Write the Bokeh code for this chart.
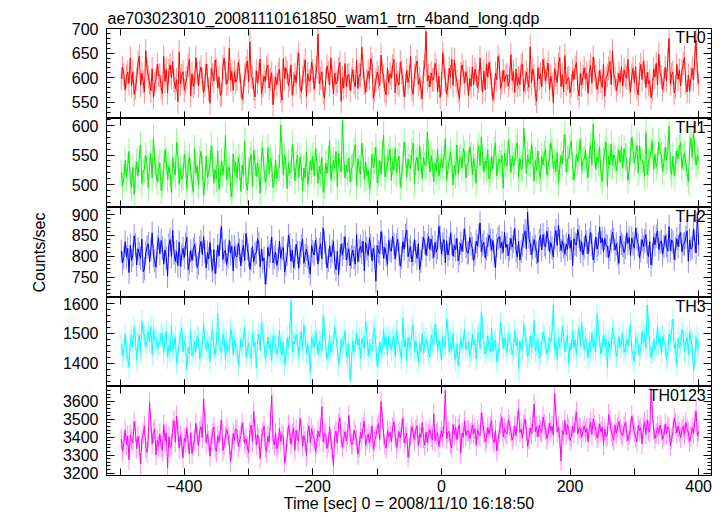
import numpy as np
from bokeh.plotting import figure
from bokeh.layouts import column
from bokeh.models import Range1d, LinearAxis, SingleIntervalTicker, Label, ColumnDataSource
from bokeh.embed import file_html
from bokeh.resources import INLINE

TITLE = "ae703023010_20081110161850_wam1_trn_4band_long.qdp"
X_LABEL = "Time [sec] 0 = 2008/11/10 16:18:50"
Y_LABEL = "Counts/sec"
NAMES = ["TH0", "TH1", "TH2", "TH3", "TH0123"]
COLORS = ["#ff0000", "#00f000", "#0000ff", "#00ffff", "#ff00ff"]
T_START = -498
T_STEP = 2
ERRORS = [24, 23, 28, 38, 58]
Y_RANGES = [(517, 700), (461, 612), (701, 917), (1322, 1619), (3187, 3682)]
Y_MAJOR = [50, 50, 50, 100, 100]
X_RANGE = (-521, 420)

th0 = [598, 621, 607, 575, 603, 611, 588, 640, 583, 612, 566, 579, 597, 630, 644, 584, 609, 592, 571, 655, 618, 602, 589, 573, 618, 560, 587, 596, 627, 605,
       605, 580, 568, 643, 592, 617, 569, 614, 626, 600, 633, 594, 578, 596, 551, 652, 587, 604, 612, 574, 589, 599, 625, 638, 563, 608, 582, 590, 641, 610,
       583, 611, 622, 596, 570, 585, 628, 604, 577, 548, 619, 606, 593, 636, 615, 579, 601, 564, 566, 622, 640, 609, 587, 598, 660, 595, 613, 574, 612, 591,
       597, 631, 613, 584, 556, 572, 605, 620, 634, 591, 673, 602, 600, 577, 561, 614, 589, 608, 638, 568, 583, 603, 592, 619, 626, 579, 596, 610, 545, 580,
       601, 586, 609, 617, 572, 554, 639, 598, 620, 611, 583, 597, 626, 564, 588, 606, 590, 629, 650, 581, 571, 599, 615, 636, 562, 608, 593, 594, 632, 614,
       576, 603, 621, 689, 588, 599, 612, 571, 558, 596, 624, 610, 585, 640, 602, 567, 609, 587, 593, 618, 631, 552, 600, 579, 629, 582, 604, 607, 574, 597,
       616, 591, 581, 635, 578, 606, 604, 662, 623, 589, 570, 594, 613, 598, 639, 627, 558, 575, 595, 611, 600, 584, 646, 612, 603, 573, 565, 620, 590, 608,
       599, 624, 637, 569, 607, 590, 585, 632, 611, 596, 561, 584, 615, 590, 603, 643, 577, 566, 605, 621, 634, 586, 598, 579, 557, 612, 626, 694, 593, 604,
       581, 610, 595, 597, 629, 615, 571, 603, 560, 588, 651, 622, 594, 566, 583, 619, 601, 638, 584, 636, 605, 592, 573, 557, 608, 626, 611, 589, 612, 599,
       563, 598, 582, 622, 585, 617, 606, 579, 593, 640, 597, 571, 613, 575, 628, 601, 631, 609, 587, 555, 574, 609, 596, 643, 624, 578, 590, 615, 592, 603,
       606, 583, 599, 647, 594, 613, 570, 617, 584, 600, 586, 625, 628, 572, 590, 611, 596, 580, 663, 589, 618, 604, 567, 552, 620, 598, 608, 581, 637, 616,
       594, 612, 630, 575, 603, 588, 549, 618, 605, 590, 627, 641, 582, 606, 571, 645, 587, 598, 600, 569, 584, 614, 596, 621, 631, 578, 563, 608, 585, 602,
       620, 597, 609, 568, 611, 625, 589, 642, 616, 602, 576, 590, 615, 593, 580, 628, 562, 599, 605, 619, 633, 586, 654, 607, 598, 574, 587, 609, 591, 622,
       583, 616, 604, 599, 637, 592, 571, 604, 619, 590, 622, 578, 565, 608, 627, 596, 633, 612, 580, 611, 587, 594, 559, 575, 618, 601, 629, 585, 648, 610,
       602, 575, 593, 621, 594, 636, 680, 588, 606, 611, 569, 582, 627, 597, 615, 583, 614, 629, 641, 590, 571, 605, 572, 598, 619, 596, 640, 676, 608, 589]

th1 = [520, 498, 511, 541, 512, 530, 556, 507, 495, 529, 483, 517, 538, 515, 544, 567, 502, 521, 526, 549, 536, 494, 533, 552, 511, 578, 540, 518, 505, 527,
       537, 490, 503, 524, 559, 541, 509, 531, 518, 486, 545, 527, 516, 572, 548, 500, 528, 509, 513, 551, 534, 492, 535, 547, 522, 506, 488, 561, 519, 532,
       499, 543, 556, 527, 481, 506, 548, 512, 523, 534, 566, 542, 503, 525, 510, 557, 491, 515, 539, 517, 535, 583, 508, 522, 530, 496, 479, 552, 521, 538,
       511, 546, 529, 488, 533, 516, 574, 505, 490, 523, 540, 551, 497, 558, 537, 514, 536, 520, 485, 549, 562, 526, 504, 513, 563, 518, 545, 532, 495, 509,
       542, 510, 527, 529, 601, 558, 516, 550, 535, 493, 537, 519, 521, 568, 546, 506, 534, 550, 512, 547, 530, 489, 528, 511, 555, 500, 517, 539, 524, 548,
       515, 561, 539, 502, 531, 518, 546, 487, 499, 536, 519, 543, 575, 508, 526, 541, 527, 556, 496, 553, 534, 522, 609, 547, 511, 533, 520, 545, 504, 528,
       530, 556, 568, 498, 544, 527, 517, 570, 548, 509, 538, 514, 524, 492, 506, 551, 529, 541, 563, 503, 519, 540, 518, 553, 584, 513, 526, 535, 547, 560,
       507, 539, 524, 562, 520, 537, 548, 496, 514, 534, 572, 551, 512, 543, 529, 527, 555, 570, 501, 538, 546, 523, 566, 540, 510, 546, 533, 531, 589, 552,
       521, 549, 536, 505, 537, 522, 560, 514, 530, 544, 529, 547, 578, 508, 525, 541, 555, 538, 499, 533, 516, 567, 519, 542, 546, 528, 561, 552, 511, 534,
       538, 564, 550, 517, 545, 529, 502, 551, 566, 532, 581, 545, 522, 540, 527, 559, 509, 521, 547, 526, 558, 570, 515, 531, 543, 536, 549, 494, 553, 537,
       531, 575, 554, 520, 548, 532, 539, 563, 571, 512, 544, 526, 528, 596, 560, 518, 550, 537, 535, 567, 549, 506, 541, 524, 557, 523, 510, 548, 533, 552,
       560, 516, 533, 546, 571, 558, 527, 540, 522, 554, 503, 529, 549, 535, 561, 585, 521, 543, 545, 562, 574, 530, 508, 527, 551, 538, 556, 576, 524, 541,
       543, 558, 531, 512, 550, 566, 534, 602, 555, 526, 547, 538, 564, 519, 505, 541, 555, 572, 497, 548, 533, 569, 532, 550, 544, 523, 540, 559, 537, 563,
       528, 561, 547, 545, 507, 524, 553, 580, 559, 536, 549, 567, 520, 566, 541, 542, 531, 515, 588, 517, 538, 546, 557, 574, 525, 551, 529, 539, 572, 556,
       550, 522, 538, 563, 541, 555, 599, 530, 517, 548, 515, 534, 557, 544, 562, 571, 527, 546, 553, 536, 520, 505, 562, 579, 546, 591, 558, 533, 549, 540]

th2 = [812, 784, 797, 835, 798, 819, 761, 826, 790, 803, 849, 827, 779, 818, 806, 795, 841, 763, 770, 808, 822, 830, 787, 815, 856, 801, 789, 774, 822, 844,
       806, 838, 820, 781, 815, 796, 752, 827, 840, 799, 862, 808, 788, 811, 777, 834, 776, 802, 819, 797, 829, 845, 768, 785, 813, 790, 817, 828, 805, 773,
       783, 821, 836, 804, 847, 811, 772, 809, 794, 833, 789, 766, 816, 758, 787, 826, 801, 843, 871, 792, 810, 814, 780, 799, 838, 807, 824, 765, 823, 801,
       798, 831, 815, 777, 812, 827, 790, 855, 818, 803, 769, 792, 824, 786, 805, 809, 842, 830, 775, 817, 788, 796, 733, 760, 821, 800, 812, 846, 784, 797,
       810, 778, 793, 836, 795, 818, 821, 762, 781, 805, 850, 828, 788, 814, 772, 796, 829, 809, 771, 808, 825, 841, 783, 802, 817, 798, 776, 757, 826, 811,
       803, 839, 817, 781, 816, 830, 794, 868, 834, 808, 772, 790, 825, 799, 812, 836, 785, 768, 812, 756, 794, 829, 804, 820, 847, 791, 806, 818, 777, 799,
       815, 797, 781, 852, 787, 813, 824, 809, 836, 765, 833, 818, 802, 844, 826, 789, 819, 798, 740, 826, 811, 806, 859, 832, 795, 821, 803, 780, 838, 816,
       812, 848, 829, 793, 827, 841, 805, 776, 797, 835, 817, 850, 863, 799, 814, 823, 786, 806, 840, 811, 795, 830, 768, 788, 819, 845, 833, 802, 828, 847,
       816, 841, 822, 797, 833, 810, 821, 872, 845, 806, 829, 840, 784, 837, 803, 818, 855, 831, 800, 826, 815, 843, 789, 807, 831, 812, 838, 866, 824, 809,
       808, 845, 830, 819, 790, 804, 836, 825, 849, 880, 811, 827, 834, 796, 818, 828, 851, 839, 815, 838, 802, 772, 826, 843, 847, 820, 833, 809, 858, 821,
       829, 801, 817, 843, 822, 835, 867, 813, 798, 836, 791, 812, 827, 848, 861, 818, 906, 846, 831, 803, 820, 840, 824, 809, 785, 838, 850, 815, 852, 828,
       822, 860, 841, 810, 833, 819, 798, 845, 862, 826, 875, 838, 814, 837, 823, 805, 829, 816, 853, 819, 839, 778, 842, 829, 827, 864, 847, 812, 835, 803,
       820, 851, 834, 806, 839, 857, 828, 791, 812, 846, 817, 829, 870, 832, 844, 811, 843, 825, 824, 797, 816, 836, 858, 840, 815, 830, 806, 783, 848, 831,
       825, 809, 821, 856, 831, 845, 802, 844, 830, 819, 868, 842, 828, 796, 813, 840, 823, 837, 852, 810, 799, 835, 779, 804, 846, 827, 848, 861, 816, 833,
       837, 805, 824, 849, 826, 812, 871, 813, 839, 834, 792, 818, 842, 823, 850, 857, 811, 829, 830, 845, 861, 788, 839, 817, 821, 866, 836, 808, 903, 827]

th3 = [1462, 1425, 1447, 1498, 1441, 1420, 1387, 1476, 1493, 1452, 1519, 1481, 1410, 1468, 1495, 1433, 1540, 1506, 1489, 1456, 1472, 1503, 1471, 1522, 1428, 1512, 1480, 1485, 1447, 1466,
       1466, 1501, 1488, 1434, 1479, 1505, 1419, 1458, 1440, 1527, 1443, 1462, 1486, 1401, 1429, 1463, 1495, 1517, 1437, 1474, 1455, 1378, 1452, 1431, 1509, 1426, 1448, 1470, 1439, 1491,
       1484, 1415, 1436, 1459, 1532, 1478, 1446, 1473, 1454, 1404, 1490, 1512, 1451, 1428, 1470, 1566, 1461, 1445, 1435, 1497, 1482, 1412, 1469, 1440, 1443, 1515, 1496, 1429, 1477, 1458,
       1448, 1394, 1423, 1481, 1456, 1479, 1520, 1421, 1444, 1466, 1438, 1415, 1504, 1453, 1471, 1383, 1475, 1497, 1442, 1534, 1509, 1460, 1418, 1437, 1487, 1449, 1463, 1408, 1492, 1476,
       1458, 1431, 1452, 1511, 1444, 1427, 1470, 1399, 1418, 1485, 1451, 1499, 1609, 1437, 1473, 1464, 1496, 1474, 1420, 1478, 1506, 1445, 1526, 1489, 1432, 1461, 1440, 1369, 1488, 1465,
       1452, 1506, 1483, 1427, 1473, 1461, 1440, 1559, 1514, 1457, 1413, 1435, 1494, 1436, 1458, 1468, 1521, 1490, 1446, 1397, 1424, 1479, 1455, 1471, 1508, 1430, 1417, 1466, 1342, 1401,
       1475, 1438, 1460, 1499, 1461, 1482, 1416, 1483, 1465, 1449, 1537, 1503, 1424, 1467, 1443, 1441, 1502, 1518, 1457, 1389, 1421, 1471, 1434, 1450, 1514, 1459, 1487, 1426, 1490, 1468,
       1444, 1478, 1491, 1422, 1505, 1476, 1463, 1435, 1414, 1552, 1454, 1480, 1409, 1486, 1462, 1448, 1517, 1528, 1439, 1472, 1451, 1403, 1465, 1439, 1498, 1433, 1470, 1481, 1456, 1437,
       1419, 1493, 1477, 1460, 1530, 1494, 1442, 1476, 1453, 1411, 1488, 1467, 1455, 1548, 1511, 1437, 1469, 1446, 1501, 1428, 1410, 1464, 1391, 1426, 1482, 1450, 1472, 1513, 1445, 1462,
       1471, 1423, 1441, 1496, 1458, 1479, 1414, 1485, 1502, 1447, 1572, 1520, 1462, 1431, 1453, 1490, 1453, 1437, 1518, 1440, 1466, 1477, 1406, 1429, 1468, 1535, 1497, 1449, 1484, 1459,
       1436, 1497, 1475, 1465, 1429, 1450, 1510, 1457, 1483, 1381, 1474, 1442, 1446, 1528, 1495, 1463, 1420, 1438, 1491, 1452, 1470, 1542, 1439, 1461, 1479, 1416, 1433, 1467, 1503, 1486,
       1458, 1432, 1445, 1487, 1470, 1504, 1595, 1448, 1469, 1412, 1483, 1455, 1461, 1522, 1488, 1437, 1475, 1492, 1400, 1466, 1443, 1509, 1451, 1478, 1427, 1493, 1516, 1459, 1536, 1484,
       1443, 1481, 1463, 1418, 1469, 1439, 1502, 1454, 1477, 1437, 1563, 1510, 1476, 1430, 1457, 1495, 1460, 1481, 1385, 1473, 1449, 1447, 1516, 1492, 1464, 1422, 1440, 1488, 1452, 1471,
       1499, 1435, 1454, 1478, 1457, 1489, 1531, 1442, 1427, 1404, 1486, 1468, 1463, 1425, 1448, 1507, 1471, 1495, 1449, 1593, 1527, 1456, 1419, 1436, 1480, 1445, 1462, 1524, 1466, 1485,
       1432, 1490, 1471, 1458, 1413, 1436, 1497, 1474, 1509, 1547, 1448, 1466, 1395, 1483, 1452, 1461, 1512, 1493, 1438, 1470, 1484, 1427, 1505, 1478, 1459, 1376, 1410, 1488, 1441, 1463]

th0123 = [3390, 3322, 3365, 3441, 3358, 3407, 3275, 3412, 3386, 3369, 3487, 3433, 3336, 3405, 3352, 3251, 3378, 3419, 3460, 3344, 3316, 3398, 3592, 3481, 3363, 3427, 3445, 3301, 3384, 3350,
          3419, 3347, 3326, 3470, 3381, 3424, 3229, 3402, 3343, 3356, 3445, 3491, 3372, 3518, 3437, 3339, 3410, 3368, 3286, 3395, 3373, 3451, 3364, 3309, 3425, 3310, 3357, 3388, 3476, 3412,
          3352, 3433, 3459, 3397, 3614, 3502, 3368, 3415, 3378, 3294, 3386, 3421, 3457, 3341, 3320, 3408, 3372, 3439, 3496, 3326, 3358, 3399, 3443, 3411, 3361, 3265, 3334, 3420, 3383, 3447,
          3437, 3349, 3380, 3404, 3478, 3431, 3366, 3391, 3345, 3312, 3428, 3467, 3375, 3543, 3440, 3357, 3413, 3392, 3282, 3394, 3427, 3462, 3343, 3318, 3406, 3371, 3498, 3632, 3389, 3356,
          3421, 3335, 3362, 3450, 3377, 3415, 3403, 3258, 3301, 3396, 3466, 3425, 3360, 3418, 3452, 3327, 3439, 3386, 3381, 3504, 3446, 3350, 3409, 3374, 3296, 3424, 3463, 3368, 3447, 3410,
          3392, 3317, 3359, 3435, 3401, 3448, 3569, 3374, 3420, 3416, 3338, 3370, 3455, 3387, 3322, 3243, 3411, 3434, 3365, 3472, 3508, 3398, 3346, 3391, 3430, 3379, 3415, 3521, 3407, 3363,
          3362, 3440, 3412, 3384, 3305, 3348, 3426, 3393, 3451, 3488, 3354, 3389, 3417, 3370, 3404, 3463, 3332, 3378, 3405, 3449, 3476, 3387, 3598, 3503, 3415, 3361, 3339, 3437, 3400, 3428,
          3376, 3452, 3487, 3413, 3340, 3382, 3431, 3396, 3442, 3507, 3367, 3401, 3422, 3289, 3336, 3410, 3458, 3423, 3385, 3439, 3464, 3352, 3419, 3398, 3481, 3395, 3356, 3428, 3371, 3417,
          3444, 3406, 3385, 3529, 3380, 3418, 3425, 3348, 3397, 3437, 3402, 3475, 3660, 3393, 3427, 3432, 3365, 3341, 3471, 3414, 3455, 3386, 3446, 3470, 3312, 3423, 3400, 3491, 3408, 3436,
          3436, 3391, 3422, 3468, 3419, 3449, 3355, 3442, 3413, 3407, 3534, 3484, 3429, 3373, 3394, 3453, 3416, 3459, 3492, 3388, 3370, 3440, 3325, 3381, 3427, 3475, 3511, 3401, 3448, 3426,
          3418, 3497, 3465, 3433, 3384, 3406, 3461, 3410, 3489, 3556, 3426, 3444, 3395, 3470, 3502, 3438, 3347, 3391, 3452, 3417, 3478, 3585, 3431, 3459, 3402, 3466, 3437, 3424, 3513, 3472,
          3441, 3392, 3420, 3479, 3436, 3461, 3412, 3643, 3528, 3428, 3455, 3397, 3268, 3437, 3415, 3494, 3413, 3470, 3446, 3381, 3407, 3460, 3425, 3492, 3538, 3418, 3453, 3449, 3399, 3434,
          3463, 3427, 3448, 3376, 3451, 3485, 3415, 3502, 3466, 3439, 3396, 3421, 3472, 3430, 3457, 3358, 3445, 3403, 3411, 3526, 3490, 3434, 3403, 3383, 3468, 3422, 3456, 3487, 3441, 3418,
          3409, 3459, 3481, 3432, 3380, 3414, 3448, 3517, 3470, 3426, 3401, 3375, 3465, 3435, 3452, 3363, 3450, 3488, 3414, 3497, 3439, 3428, 3661, 3536, 3442, 3393, 3419, 3456, 3420, 3467,
          3437, 3388, 3410, 3473, 3419, 3458, 3445, 3353, 3392, 3431, 3508, 3474, 3424, 3462, 3429, 3398, 3440, 3461, 3414, 3482, 3447, 3427, 3376, 3404, 3453, 3418, 3490, 3544, 3406, 3433]

SERIES = [th0, th1, th2, th3, th0123]

FONT = "Liberation Sans"
FS = "16px"
WIDTH = 718
HEIGHTS = [118, 89, 90, 89, 130]
TOPS = [28, 0, 0, 0, 0]
BOTTOMS = [0, 0, 0, 0, 41]

x_range = Range1d(*X_RANGE)


def style_axis(ax, tick_in, minor_in, labels):
    ax.major_tick_in = tick_in
    ax.major_tick_out = 0
    ax.minor_tick_in = minor_in
    ax.minor_tick_out = 0
    ax.axis_line_color = "black"
    ax.major_tick_line_color = "black"
    ax.minor_tick_line_color = "black"
    ax.axis_line_width = 1
    if labels:
        ax.major_label_text_font = FONT
        ax.major_label_text_font_size = FS
        ax.major_label_text_color = "black"
    else:
        ax.major_label_text_color = None
        ax.major_label_standoff = 0


figs = []
for i in range(5):
    lo, hi = Y_RANGES[i]
    p = figure(width=WIDTH, height=HEIGHTS[i], x_range=x_range, y_range=Range1d(lo, hi),
               output_backend="svg", toolbar_location=None,
               x_axis_location=None, y_axis_location=None,
               min_border_left=106, min_border_right=7,
               min_border_top=TOPS[i], min_border_bottom=BOTTOMS[i],
               title=TITLE if i == 0 else None)
    p.grid.visible = False
    p.outline_line_color = "black"
    p.outline_line_width = 1
    p.background_fill_color = "white"
    p.border_fill_color = "white"
    if i == 0:
        p.title.text_font = FONT
        p.title.text_font_size = FS
        p.title.text_font_style = "normal"
        p.title.text_color = "black"
        p.title.align = "left"
        p.title.standoff = 4
        p.title.offset = 1

    vals = np.array(SERIES[i], dtype=float)
    t = T_START + T_STEP * np.arange(len(vals))
    err = ERRORS[i]
    src = ColumnDataSource(dict(t=t, v=vals, lo=vals - err, hi=vals + err))
    p.segment(x0="t", y0="lo", x1="t", y1="hi", source=src, line_color=COLORS[i],
              line_alpha=0.45, line_width=1)
    p.line(x="t", y="v", source=src, line_color=COLORS[i], line_width=1)

    yl = LinearAxis(ticker=SingleIntervalTicker(interval=Y_MAJOR[i], num_minor_ticks=5))
    style_axis(yl, 8, 4, True)
    yl.major_label_standoff = 8
    if i == 2:
        yl.axis_label = Y_LABEL
        yl.axis_label_text_font = FONT
        yl.axis_label_text_font_size = FS
        yl.axis_label_text_font_style = "normal"
        yl.axis_label_text_color = "black"
        yl.axis_label_standoff = 21
    p.add_layout(yl, "left")
    yr = LinearAxis(ticker=SingleIntervalTicker(interval=Y_MAJOR[i], num_minor_ticks=5))
    style_axis(yr, 8, 4, False)
    p.add_layout(yr, "right")

    xt = LinearAxis(ticker=SingleIntervalTicker(interval=200, num_minor_ticks=2))
    style_axis(xt, 7, 7, False)
    p.add_layout(xt, "above")
    xb = LinearAxis(ticker=SingleIntervalTicker(interval=200, num_minor_ticks=2))
    last = (i == 4)
    style_axis(xb, 7, 7, last)
    if last:
        xb.major_label_standoff = 4
        xb.major_label_overrides = {-400: "\u2212400", -200: "\u2212200"}
        xb.axis_label = X_LABEL
        xb.axis_label_text_font = FONT
        xb.axis_label_text_font_size = FS
        xb.axis_label_text_font_style = "normal"
        xb.axis_label_text_color = "black"
        xb.axis_label_standoff = 0
    p.add_layout(xb, "below")

    p.add_layout(Label(x=411, y=hi, text=NAMES[i], text_align="right", text_baseline="top",
                       text_font=FONT, text_font_size=FS, text_color="black"))
    figs.append(p)

layout = column(*figs, spacing=0)
open("out.html", "w").write(file_html(layout, INLINE))
